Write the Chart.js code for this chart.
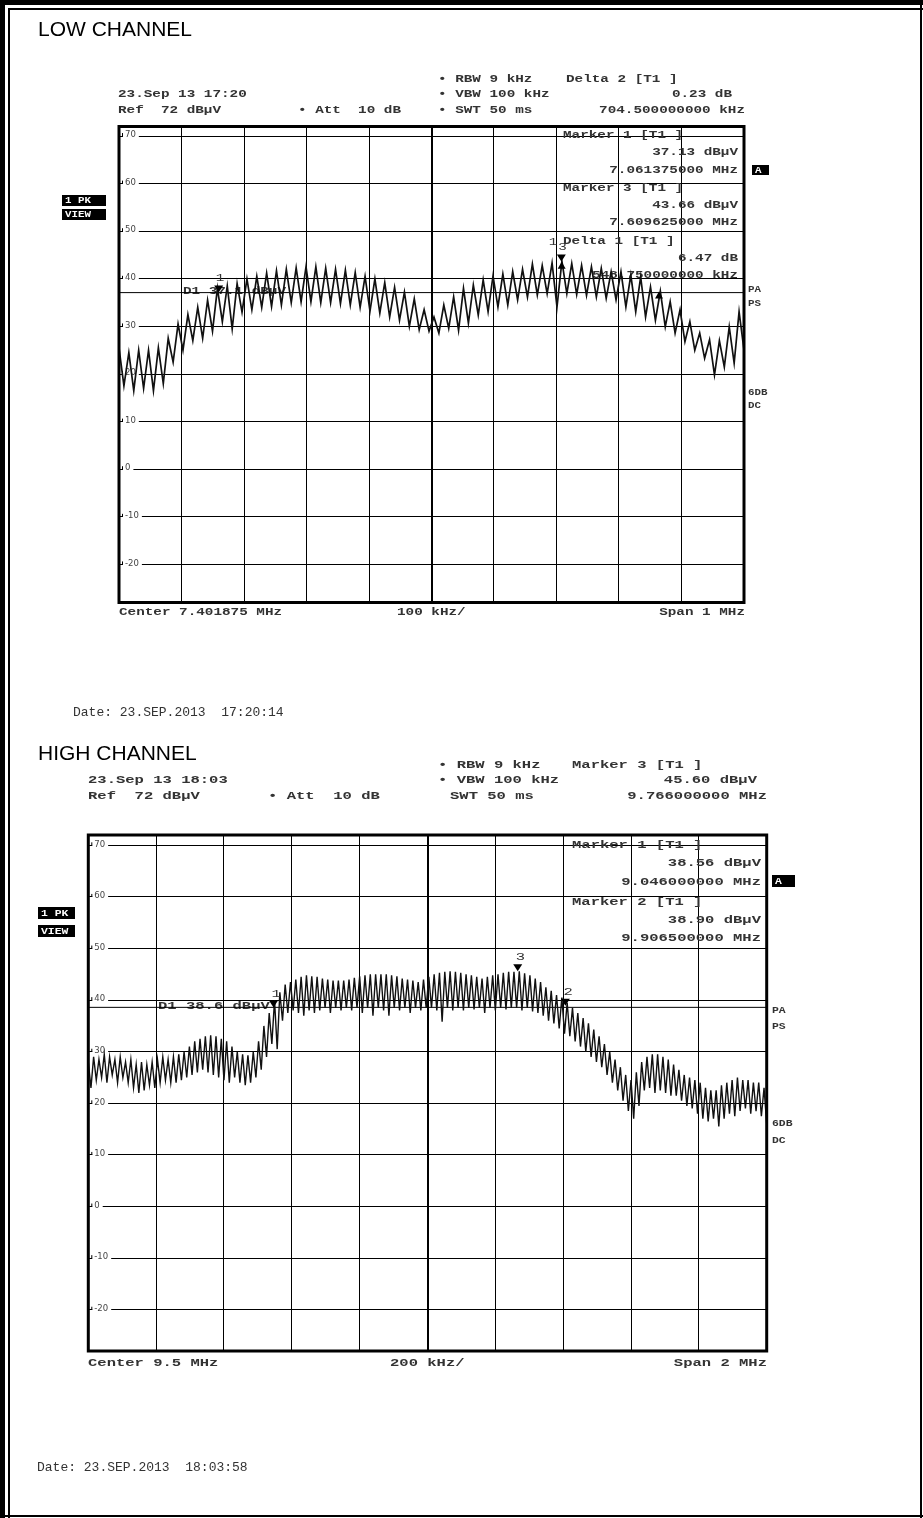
<!DOCTYPE html>
<html>
<head>
<meta charset="utf-8">
<script src="https://cdn.jsdelivr.net/npm/chart.js@4.4.1/dist/chart.umd.min.js"></script>
<style>
  html, body { margin: 0; padding: 0; background: #fff; }
  body { width: 923px; height: 1518px; position: relative; overflow: hidden; }
  .frame { position: absolute; background: #000; }
  canvas { position: absolute; left: 0; }
</style>
</head>
<body>
<div class="frame" style="left:0;top:0;width:5px;height:1518px"></div>
<div class="frame" style="left:0;top:0;width:923px;height:5px"></div>
<div class="frame" style="left:8px;top:8px;width:2px;height:1510px"></div>
<div class="frame" style="left:8px;top:8px;width:915px;height:2px"></div>
<div class="frame" style="left:920px;top:0;width:2px;height:1518px"></div>
<div class="frame" style="left:0;top:1515px;width:923px;height:2px"></div>

<canvas id="low" width="923" height="740" style="top:0;width:923px;height:740px"></canvas>
<canvas id="high" width="923" height="778" style="top:740px;width:923px;height:778px"></canvas>

<script>
// ---- LOW CHANNEL sweep: centre 7.401875 MHz, span 1 MHz ----
const lowStartMHz = 6.901875;
const lowSpanMHz = 1.0;
// ripple maxima / minima of the peak trace, one pair per ripple period (dBµV)
const lowUpper = [25.5,24.5,25,25,25.5,27.5,30.5,32.5,34,35.5,
  38,38.5,39,40,40.5,41.2,41.7,42,42.3,42.5,
  42.5,42.2,42,41.8,41.3,40.5,40,39.2,38.2,37.2,
  35.8,33.5,32,34.5,36.2,38,38.7,39.8,40.6,41,
  41.5,42,43.1,42.8,43.3,43.7,43.2,42.8,42.5,42.2,
  41.5,41.5,40.8,40.4,38.3,37.4,35.2,33.5,31,28.6,
  27.2,27,29.9,33.1];
const lowLower = [17.5,16.5,17,16.5,18,22.5,25,27,27.5,29,
  31,29.5,33,33.5,34,34.2,34.5,35,35.2,35.2,
  35,35,34.8,34.5,34,33.2,32.8,32,31.3,30,
  29.3,29,28.6,29.6,29.2,30.7,32.4,33.1,34.1,34.5,
  35.6,36.2,36.6,36.9,34.1,36.9,36.7,36.5,36.2,35.9,
  35.6,34.1,33.1,32,31.3,29.9,28.6,26.8,25,23.3,
  19.8,21.5,22.3,25];
const lowMarkerNames = ['1', '3'];
const lowMarkerMHz = [7.061375, 7.609625];
const lowMarkerDb = [37.13, 43.66];
// delta markers relative to marker 1
const lowDeltaNames = ['1', '2'];
const lowDeltaKHz = [548.75, 704.5];
const lowDeltaDb = [6.47, 0.23];
const lowDisplayLine = 37.1;

// ---- HIGH CHANNEL sweep: centre 9.5 MHz, span 2 MHz ----
const highStartMHz = 8.5;
const highSpanMHz = 2.0;
const highUpper = [28,29,28.5,29.5,29,28.5,29,28,
  28.5,27.5,28,27.5,28,28.5,29,28.5,
  29,29.5,30,31,32,32.5,33,33.2,
  33,32.5,32,31,30,29.5,29.3,30,
  32,35,37.5,40,41.5,43,43.5,44,
  44.5,44.8,44.6,44.5,44.2,44,43.8,43.8,
  43.8,44,44.3,44.6,44.8,45,45,45,
  45,44.8,44.6,44.2,44,43.8,43.5,44,
  44.5,45,45.3,45.5,45.6,45.5,45.3,45,
  44.8,44.5,44.2,44.5,44.8,45,45.3,45.5,
  45.5,45.6,45.2,44.8,44.2,43.5,42.5,41.8,
  41,40.5,39.5,38.5,37.5,36.5,35.5,34.3,
  33,31.5,30,28.5,27,25.5,24.5,26,
  28,29,29.5,29.5,29,28.5,27.5,26.5,
  25.5,25,24.5,24,23,22.5,22.5,23.5,
  24,24.5,25,24.5,24.5,24,24,23];
const highLower = [23,24.5,25,24,25.5,24,25,24,
  23,22,22.5,23.5,23,24,24.5,24,
  24,24.5,25,25.5,26,26.5,26,25.5,
  25,24.5,24,25,24,23.5,24,25,
  26.5,29,31.5,30.5,36,37.5,38,37.5,
  37,38,37.5,38,38.5,37.5,38.5,38,
  38.5,38,38.5,37.5,38.5,37,38.5,38,
  37,38.5,38,38.5,37.5,38.5,38,38.5,
  38.5,38,35.8,38.5,38,38.5,38,38.5,
  38.2,38.5,37.5,38.5,38,38.5,38.2,38.5,
  38.5,38,38.5,37.8,37.5,37,36,35.5,
  34.5,33.5,33,32,31,30,29,28,
  27,25.5,24,22.5,20.5,18.5,17,19.5,
  22.5,23,22,22.5,22,21.5,21.5,20.5,
  19.5,19,18,17,16.5,17,15.5,17,
  18,17.5,18.5,19,18,18.5,17.5,16];
const highMarkerNames = ['1', '2', '3'];
const highMarkerMHz = [9.046, 9.9065, 9.766];
const highMarkerDb = [38.56, 38.90, 45.60];
const highDisplayLine = 38.6;

// level axis: ref 72 dBµV, 10 dB/div
const refLevel = 72;
const levelGrid = [70, 60, 50, 40, 30, 20, 10, 0, -10, -20];

const MONO = '"Liberation Mono", "DejaVu Sans Mono", monospace';
const TEXT = '#333';

function mono(ctx, txt, x, y, o) {
  ctx.save();
  ctx.font = (o.weight || 'bold') + ' ' + o.size + 'px ' + MONO;
  ctx.fillStyle = o.color || TEXT;
  ctx.textBaseline = 'middle';
  ctx.textAlign = 'left';
  const w = ctx.measureText(txt).width * o.sx;
  let x0 = x;
  if (o.align === 'right') x0 = x - w;
  ctx.translate(x0, y);
  ctx.scale(o.sx, 1);
  ctx.fillText(txt, 0, 0);
  ctx.restore();
  return w;
}

function boxLabel(ctx, txt, x, y, w, h, o) {
  ctx.save();
  ctx.fillStyle = '#000';
  ctx.fillRect(x, y, w, h);
  ctx.restore();
  mono(ctx, txt, x + 3, y + h / 2 + 0.5, Object.assign({}, o, {color: '#fff'}));
}

function sweepPoints(start, span, upper, lower) {
  const total = upper.length * 2;
  const pts = [];
  for (let k = 0; k < total; k++) {
    const i = k >> 1;
    pts.push({x: start + span * k / (total - 1), y: (k % 2 === 0) ? upper[i] : lower[i]});
  }
  return pts;
}

function makePanel(id, p) {
  const end = p.start + p.span;
  const fontOpt = {size: p.font, sx: p.sx};

  const panelPlugin = {
    id: 'panel_' + id,
    beforeDatasetsDraw(chart) {
      const ctx = chart.ctx, a = chart.chartArea, ys = chart.scales.y;
      // level labels sit on their grid lines
      ctx.save();
      ctx.font = '8.5px "DejaVu Sans", sans-serif';
      levelGrid.forEach(v => {
        const y = ys.getPixelForValue(v);
        const w = ctx.measureText(String(v)).width;
        ctx.fillStyle = '#fff';
        ctx.fillRect(a.left + 4, y - 5, w + 5, 8);
        ctx.fillStyle = '#444';
        ctx.textBaseline = 'middle';
        ctx.fillText(String(v), a.left + 6, y - 1);
        ctx.fillStyle = '#000';
        ctx.fillRect(a.left + 3, y - 3, 1, 3);
      });
      ctx.restore();
      // marker readouts in the upper right of the grid
      p.readout.forEach(r => mono(ctx, r.t, r.align === 'right' ? p.readoutRight : p.readoutLeft, r.y,
        Object.assign({align: r.align}, fontOpt)));
      // display line label
      mono(ctx, p.dlText, p.dlX, ys.getPixelForValue(p.displayLine) - 1, fontOpt);
    },
    afterDatasetsDraw(chart) {
      const ctx = chart.ctx, a = chart.chartArea, xs = chart.scales.x, ys = chart.scales.y;
      ctx.save();
      ctx.strokeStyle = '#000';
      ctx.lineWidth = 3;
      ctx.strokeRect(a.left, a.top, a.right - a.left, a.bottom - a.top);
      ctx.restore();
      // normal markers: filled triangle pointing down onto the trace
      p.markers.forEach(m => {
        const x = xs.getPixelForValue(m.f), y = ys.getPixelForValue(m.v);
        ctx.save();
        ctx.fillStyle = '#000';
        ctx.beginPath();
        ctx.moveTo(x, y);
        ctx.lineTo(x - 4.5, y - 7);
        ctx.lineTo(x + 4.5, y - 7);
        ctx.closePath();
        ctx.fill();
        ctx.restore();
        mono(ctx, m.n, x - 3 + (m.dx || 0), y - 14, Object.assign({weight: 'normal'}, fontOpt));
      });
      // delta markers: triangle pointing up onto the trace
      (p.deltas || []).forEach(m => {
        const x = xs.getPixelForValue(m.f), y = ys.getPixelForValue(m.v);
        ctx.save();
        ctx.fillStyle = '#000';
        ctx.beginPath();
        ctx.moveTo(x, y);
        ctx.lineTo(x - 4, y + 7);
        ctx.lineTo(x + 4, y + 7);
        ctx.closePath();
        ctx.fill();
        ctx.restore();
        if (m.label) mono(ctx, m.n, x + m.lx, y + m.ly, Object.assign({weight: 'normal'}, fontOpt));
      });
    },
    afterDraw(chart) {
      const ctx = chart.ctx;
      ctx.save();
      ctx.font = '21px "Liberation Sans", Arial, sans-serif';
      ctx.fillStyle = '#000';
      ctx.textBaseline = 'alphabetic';
      ctx.fillText(p.title, 38, p.titleY);
      ctx.restore();
      p.header.forEach(h => mono(ctx, h.t, h.x, h.y, Object.assign({align: h.align}, fontOpt)));
      p.side.forEach(h => mono(ctx, h.t, h.x, h.y, Object.assign({size: p.font - 2, sx: 1.2})));
      p.boxes.forEach(b => boxLabel(ctx, b.t, b.x, b.y, b.w, b.h, {size: p.font - 2, sx: 1.2}));
      ctx.save();
      ctx.font = '13px ' + MONO;
      ctx.fillStyle = '#333';
      ctx.textBaseline = 'middle';
      ctx.fillText(p.date, p.dateX, p.dateY);
      ctx.restore();
    }
  };

  return new Chart(document.getElementById(id), {
    type: 'line',
    data: {
      datasets: [
        {
          data: sweepPoints(p.start, p.span, p.upper, p.lower),
          borderColor: '#111', borderWidth: p.traceWidth, pointRadius: 0, tension: 0
        },
        {
          data: [{x: p.start, y: p.displayLine}, {x: end, y: p.displayLine}],
          borderColor: '#000', borderWidth: 1, pointRadius: 0
        }
      ]
    },
    options: {
      responsive: false,
      devicePixelRatio: 1,
      animation: false,
      parsing: false,
      layout: {padding: p.padding},
      plugins: {legend: {display: false}, tooltip: {enabled: false}},
      scales: {
        x: {
          type: 'linear', min: p.start, max: end,
          afterBuildTicks: s => { s.ticks = Array.from({length: 11}, (_, i) => ({value: p.start + p.span * i / 10})); },
          afterFit: s => { s.height = 0; },
          ticks: {display: false},
          border: {display: false},
          grid: {color: '#000', lineWidth: c => (c.index === 5 ? 2 : 1), drawTicks: false}
        },
        y: {
          type: 'linear', min: refLevel - 100, max: refLevel,
          afterBuildTicks: s => { s.ticks = levelGrid.map(v => ({value: v})); },
          afterFit: s => { s.width = 0; },
          ticks: {display: false},
          border: {display: false},
          grid: {color: '#000', lineWidth: 1, drawTicks: false}
        }
      }
    },
    plugins: [panelPlugin]
  });
}

// LOW CHANNEL panel
const m1 = lowMarkerMHz[0], m1db = lowMarkerDb[0];
makePanel('low', {
  title: 'LOW CHANNEL', titleY: 36,
  start: lowStartMHz, span: lowSpanMHz, upper: lowUpper, lower: lowLower,
  padding: {left: 119, top: 126.5, right: 923 - 744, bottom: 740 - 602.5},
  font: 11, sx: 1.3, traceWidth: 1.7,
  displayLine: lowDisplayLine, dlText: 'D1 ' + lowDisplayLine.toFixed(1) + ' dBµV', dlX: 183,
  markers: lowMarkerNames.map((n, i) => ({n, f: lowMarkerMHz[i], v: lowMarkerDb[i], dx: 0})),
  deltas: lowDeltaNames.map((n, i) => ({n, f: m1 + lowDeltaKHz[i] / 1000, v: m1db + lowDeltaDb[i],
    label: i === 0, lx: -13, ly: -20})),
  readoutLeft: 563, readoutRight: 738,
  readout: [
    {t: 'Marker 1 [T1 ]', y: 135},
    {t: lowMarkerDb[0].toFixed(2) + ' dBµV', y: 152, align: 'right'},
    {t: lowMarkerMHz[0].toFixed(9) + ' MHz', y: 170, align: 'right'},
    {t: 'Marker 3 [T1 ]', y: 188},
    {t: lowMarkerDb[1].toFixed(2) + ' dBµV', y: 205, align: 'right'},
    {t: lowMarkerMHz[1].toFixed(9) + ' MHz', y: 222, align: 'right'},
    {t: 'Delta 1 [T1 ]', y: 241},
    {t: lowDeltaDb[0].toFixed(2) + ' dB', y: 258, align: 'right'},
    {t: lowDeltaKHz[0].toFixed(9) + ' kHz', y: 275, align: 'right'}
  ],
  header: [
    {t: '• RBW 9 kHz', x: 438, y: 79},
    {t: 'Delta 2 [T1 ]', x: 566, y: 79},
    {t: '23.Sep 13 17:20', x: 118, y: 94},
    {t: '• VBW 100 kHz', x: 438, y: 94},
    {t: lowDeltaDb[1].toFixed(2) + ' dB', x: 732, y: 94, align: 'right'},
    {t: 'Ref  72 dBµV', x: 118, y: 110},
    {t: '• Att  10 dB', x: 298, y: 110},
    {t: '• SWT 50 ms', x: 438, y: 110},
    {t: lowDeltaKHz[1].toFixed(9) + ' kHz', x: 745, y: 110, align: 'right'},
    {t: 'Center 7.401875 MHz', x: 119, y: 612},
    {t: '100 kHz/', x: 397, y: 612},
    {t: 'Span 1 MHz', x: 745, y: 612, align: 'right'}
  ],
  side: [
    {t: 'PA', x: 748, y: 290}, {t: 'PS', x: 748, y: 304},
    {t: '6DB', x: 748, y: 393}, {t: 'DC', x: 748, y: 406}
  ],
  boxes: [
    {t: '1 PK', x: 62, y: 195, w: 44, h: 11},
    {t: 'VIEW', x: 62, y: 209, w: 44, h: 11},
    {t: 'A', x: 752, y: 165, w: 17, h: 10}
  ],
  date: 'Date: 23.SEP.2013  17:20:14', dateX: 73, dateY: 713
});

// HIGH CHANNEL panel
makePanel('high', {
  title: 'HIGH CHANNEL', titleY: 20,
  start: highStartMHz, span: highSpanMHz, upper: highUpper, lower: highLower,
  padding: {left: 88.3, top: 95, right: 923 - 766.7, bottom: 778 - 611},
  font: 11.5, sx: 1.35, traceWidth: 1.4,
  displayLine: highDisplayLine, dlText: 'D1 ' + highDisplayLine.toFixed(1) + ' dBµV', dlX: 158,
  markers: highMarkerNames.map((n, i) => ({n, f: highMarkerMHz[i], v: highMarkerDb[i], dx: 1})),
  readoutLeft: 572, readoutRight: 761,
  readout: [
    {t: 'Marker 1 [T1 ]', y: 105},
    {t: highMarkerDb[0].toFixed(2) + ' dBµV', y: 123, align: 'right'},
    {t: highMarkerMHz[0].toFixed(9) + ' MHz', y: 142, align: 'right'},
    {t: 'Marker 2 [T1 ]', y: 162},
    {t: highMarkerDb[1].toFixed(2) + ' dBµV', y: 180, align: 'right'},
    {t: highMarkerMHz[1].toFixed(9) + ' MHz', y: 198, align: 'right'}
  ],
  header: [
    {t: '• RBW 9 kHz', x: 438, y: 25},
    {t: 'Marker 3 [T1 ]', x: 572, y: 25},
    {t: '23.Sep 13 18:03', x: 88, y: 40},
    {t: '• VBW 100 kHz', x: 438, y: 40},
    {t: highMarkerDb[2].toFixed(2) + ' dBµV', x: 757, y: 40, align: 'right'},
    {t: 'Ref  72 dBµV', x: 88, y: 56},
    {t: '• Att  10 dB', x: 268, y: 56},
    {t: 'SWT 50 ms', x: 450, y: 56},
    {t: highMarkerMHz[2].toFixed(9) + ' MHz', x: 767, y: 56, align: 'right'},
    {t: 'Center 9.5 MHz', x: 88, y: 623},
    {t: '200 kHz/', x: 390, y: 623},
    {t: 'Span 2 MHz', x: 767, y: 623, align: 'right'}
  ],
  side: [
    {t: 'PA', x: 772, y: 271}, {t: 'PS', x: 772, y: 287},
    {t: '6DB', x: 772, y: 384}, {t: 'DC', x: 772, y: 401}
  ],
  boxes: [
    {t: '1 PK', x: 38, y: 167, w: 37, h: 12},
    {t: 'VIEW', x: 38, y: 185, w: 37, h: 12},
    {t: 'A', x: 772, y: 135, w: 23, h: 12}
  ],
  date: 'Date: 23.SEP.2013  18:03:58', dateX: 37, dateY: 728
});
</script>
</body>
</html>
